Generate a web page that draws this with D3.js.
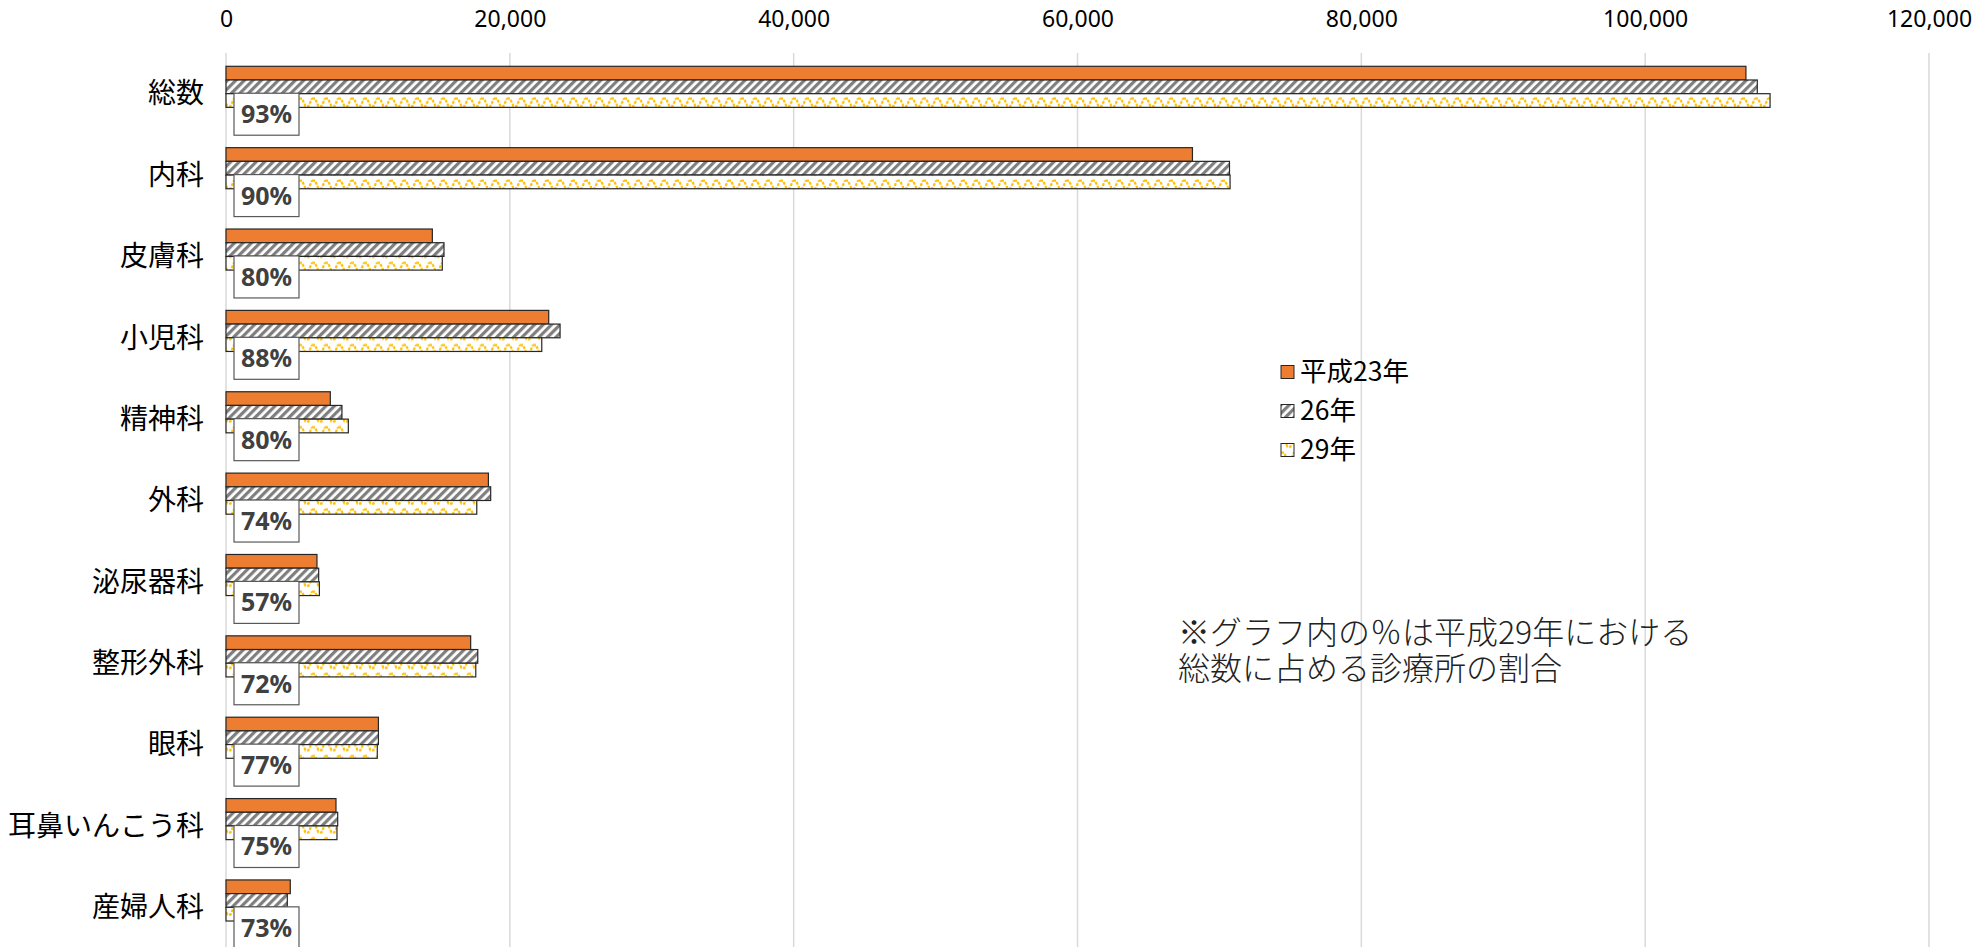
<!DOCTYPE html>
<html>
<head>
<meta charset="utf-8">
<script src="https://cdn.jsdelivr.net/npm/d3@7"></script>
<style>
  body { margin: 0; background: #fff; }
  text { font-family: "Noto Sans CJK JP", "Noto Sans", sans-serif; }
</style>
</head>
<body>
<script>
// 診療科別 施設数
var categories = ["総数", "内科", "皮膚科", "小児科", "精神科", "外科", "泌尿器科", "整形外科", "眼科", "耳鼻いんこう科", "産婦人科"];
var h23 = [107100, 68100, 14540, 22740, 7350, 18490, 6410, 17240, 10740, 7750, 4530];
var h26 = [107900, 70710, 15360, 23540, 8170, 18650, 6530, 17740, 10740, 7870, 4320];
var h29 = [108800, 70750, 15240, 22250, 8620, 17670, 6580, 17600, 10660, 7820, 4200];
var shares = ["93%", "90%", "80%", "88%", "80%", "74%", "57%", "72%", "77%", "75%", "73%"];
var seriesNames = ["平成23年", "26年", "29年"];
var xTicks = [0, 20000, 40000, 60000, 80000, 100000, 120000];
var noteLines = ["※グラフ内の％は平成29年における", "総数に占める診療所の割合"];

var width = 1984, height = 947;

var svg = d3.select("body").append("svg")
    .attr("width", width)
    .attr("height", height);

var defs = svg.append("defs");

// 斜線パターン
var hatch = defs.append("pattern")
    .attr("id", "hatch")
    .attr("patternUnits", "userSpaceOnUse")
    .attr("width", 6).attr("height", 6)
    .attr("patternTransform", "rotate(45)");
hatch.append("rect").attr("width", 6).attr("height", 6).attr("fill", "#fff");
hatch.append("rect").attr("width", 3.2).attr("height", 6).attr("fill", "#7f7f7f");

// 波線パターン
var wave = defs.append("pattern")
    .attr("id", "wave")
    .attr("patternUnits", "userSpaceOnUse")
    .attr("width", 13).attr("height", 13.7);
wave.append("rect").attr("width", 13).attr("height", 13.7).attr("fill", "#fff");
wave.append("path")
    .attr("d", "M0,2.5 L3,2.5 L6.5,10.5 L9.5,10.5 L13,2.5")
    .attr("fill", "none")
    .attr("stroke", "#ffc000")
    .attr("stroke-width", 2.2)
    .attr("stroke-dasharray", "3,1.4");

var fills = ["#ed7d31", "url(#hatch)", "url(#wave)"];
var data = [h23, h26, h29];

var xScale = d3.scaleLinear()
    .domain([0, 120000])
    .range([226, 1929]);

var yScale = d3.scaleBand()
    .domain(categories)
    .range([53, 948]);

var slot = d3.scaleBand()
    .domain(["s0", "s1", "s2", "s3"])
    .range([13.3, yScale.bandwidth() - 13.3]);

// グリッド線
svg.append("g")
  .selectAll("line")
  .data(xTicks)
  .join("line")
    .attr("x1", d => xScale(d))
    .attr("x2", d => xScale(d))
    .attr("y1", 53)
    .attr("y2", height)
    .attr("stroke", "#d9d9d9")
    .attr("stroke-width", 1.5);

// 上の目盛
var xAxis = d3.axisTop(xScale)
    .tickValues(xTicks)
    .tickFormat(d3.format(","))
    .tickSize(0);

var ax = svg.append("g")
    .attr("transform", "translate(0,30)")
    .call(xAxis);
ax.select(".domain").remove();
ax.selectAll("text")
    .attr("font-size", 23)
    .attr("fill", "#000")
    .style("font-family", "'Noto Sans', sans-serif");

// 項目ラベル
svg.append("g")
  .selectAll("text")
  .data(categories)
  .join("text")
    .attr("x", 204)
    .attr("y", d => yScale(d) + yScale.bandwidth() / 2)
    .attr("dy", "0.35em")
    .attr("text-anchor", "end")
    .attr("font-size", 28)
    .text(d => d);

// 棒
data.forEach(function(vals, s) {
  svg.append("g")
    .selectAll("rect")
    .data(vals)
    .join("rect")
      .attr("x", xScale(0))
      .attr("y", (d, i) => yScale(categories[i]) + slot("s" + s))
      .attr("width", d => xScale(d) - xScale(0))
      .attr("height", slot.bandwidth())
      .attr("fill", fills[s])
      .attr("stroke", "#262626")
      .attr("stroke-width", 1.2);
});

// 割合ラベル
var lab = svg.append("g")
  .selectAll("g")
  .data(shares)
  .join("g")
    .attr("transform", (d, i) => "translate(" + (xScale(0) + 8) + "," + (yScale(categories[i]) + slot("s3") + slot.bandwidth() / 2) + ")");

lab.append("rect")
    .attr("x", 0)
    .attr("y", -21)
    .attr("width", 65)
    .attr("height", 42)
    .attr("fill", "#fff")
    .attr("stroke", "#595959")
    .attr("stroke-width", 1.2);

lab.append("text")
    .attr("x", 32.5)
    .attr("dy", "0.36em")
    .attr("text-anchor", "middle")
    .attr("font-size", 25)
    .attr("font-weight", "bold")
    .attr("fill", "#404040")
    .style("font-family", "'Noto Sans', sans-serif")
    .text(d => d);

// 凡例
var legend = svg.append("g")
  .selectAll("g")
  .data(seriesNames)
  .join("g")
    .attr("transform", (d, i) => "translate(1281," + (372 + i * 39) + ")");

legend.append("rect")
    .attr("x", 0)
    .attr("y", -6.5)
    .attr("width", 13)
    .attr("height", 13)
    .attr("fill", (d, i) => fills[i])
    .attr("stroke", "#262626")
    .attr("stroke-width", 1);

legend.append("text")
    .attr("x", 19)
    .attr("dy", "0.35em")
    .attr("font-size", 26.5)
    .text(d => d);

// 注記
svg.append("g")
  .selectAll("text")
  .data(noteLines)
  .join("text")
    .attr("x", 1178)
    .attr("y", (d, i) => 633 + i * 36)
    .attr("dy", "0.35em")
    .attr("font-size", 32)
    .attr("font-weight", 300)
    .attr("fill", "#222")
    .text(d => d);
</script>
</body>
</html>
